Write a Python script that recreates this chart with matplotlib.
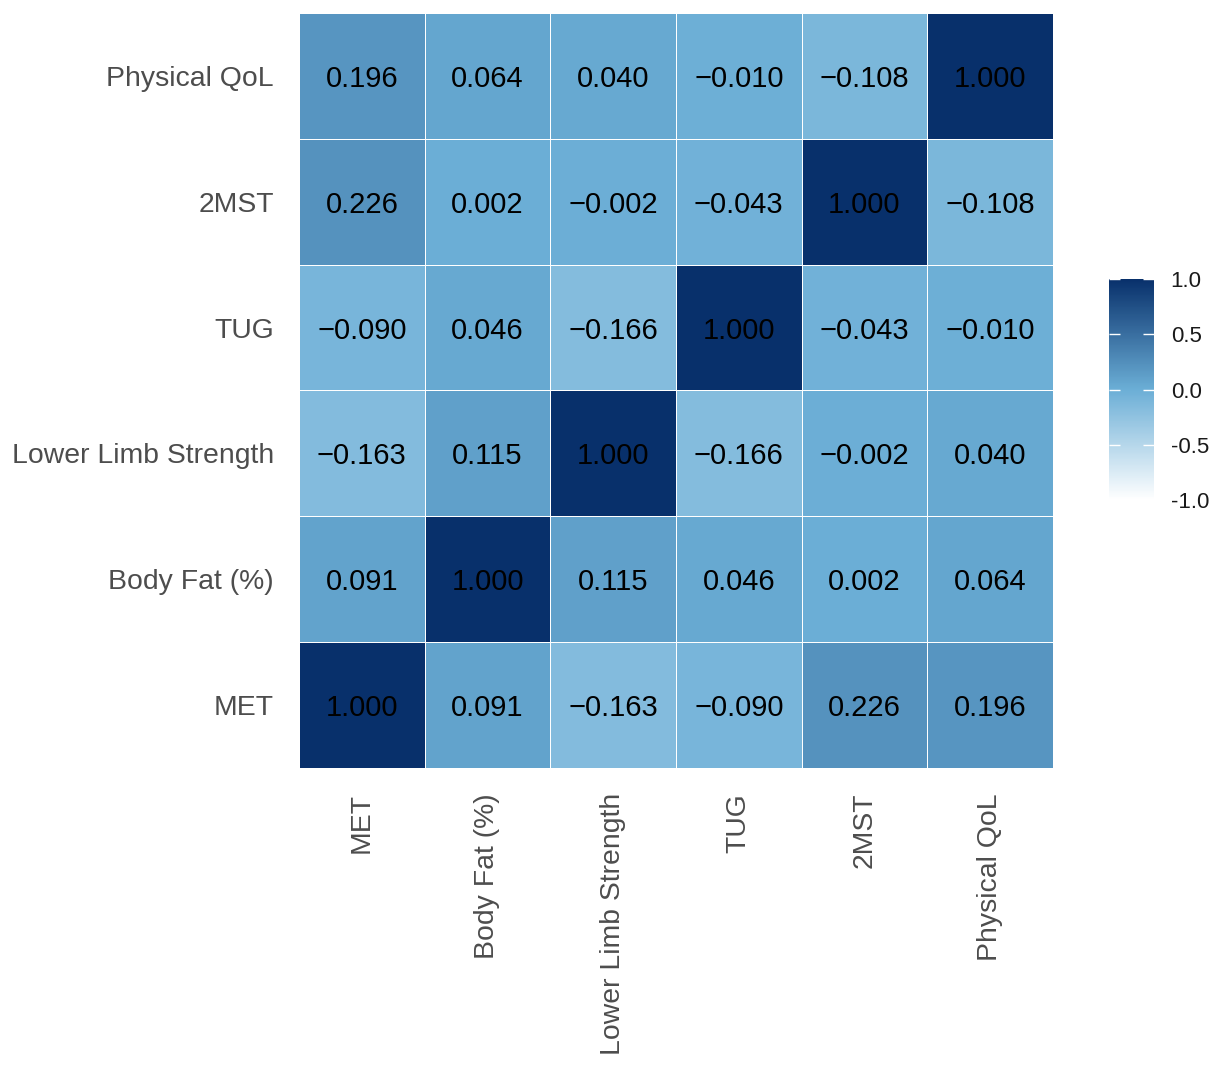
import numpy as np
import matplotlib
matplotlib.use("Agg")
import matplotlib.pyplot as plt
from matplotlib.colors import LinearSegmentedColormap

plt.rcParams['font.family'] = ['Liberation Sans', 'DejaVu Sans']

variables = ["MET", "Body Fat (%)", "Lower Limb Strength", "TUG", "2MST", "Physical QoL"]
pairs = {
    ("MET", "Body Fat (%)"): 0.091,
    ("MET", "Lower Limb Strength"): -0.163,
    ("MET", "TUG"): -0.090,
    ("MET", "2MST"): 0.226,
    ("MET", "Physical QoL"): 0.196,
    ("Body Fat (%)", "Lower Limb Strength"): 0.115,
    ("Body Fat (%)", "TUG"): 0.046,
    ("Body Fat (%)", "2MST"): 0.002,
    ("Body Fat (%)", "Physical QoL"): 0.064,
    ("Lower Limb Strength", "TUG"): -0.166,
    ("Lower Limb Strength", "2MST"): -0.002,
    ("Lower Limb Strength", "Physical QoL"): 0.040,
    ("TUG", "2MST"): -0.043,
    ("TUG", "Physical QoL"): -0.010,
    ("2MST", "Physical QoL"): -0.108,
}
cbar_ticks = [-1.0, -0.5, 0.0, 0.5, 1.0]

n = len(variables)
corr = np.eye(n)
for (a, b), v in pairs.items():
    i, j = variables.index(a), variables.index(b)
    corr[i, j] = v
    corr[j, i] = v

cmap = LinearSegmentedColormap.from_list("gb", ["#ffffff", "#6baed6", "#08306b"])

fig = plt.figure(figsize=(12.17, 10.66), dpi=100)
ax = fig.add_axes([299/1217, 298/1066, 754/1217, 755/1066])
mesh = ax.pcolormesh(np.arange(n + 1) - 0.5, np.arange(n + 1) - 0.5, corr,
                     cmap=cmap, vmin=-1, vmax=1, edgecolors="white", linewidth=0.7)
ax.set_xlim(-0.5, n - 0.5)
ax.set_ylim(-0.5, n - 0.5)
for i in range(n):
    for j in range(n):
        v = corr[i, j]
        s = f"{v:.3f}".replace("-", "\u2212")
        ax.text(j, i, s, ha="center", va="center_baseline", fontsize=21, color="black")

ax.set_xticks(range(n))
ax.set_yticks(range(n))
ax.set_xticklabels(variables, rotation=90, fontsize=20.4, color="#4d4d4d")
ax.set_yticklabels(variables, fontsize=20.4, color="#4d4d4d")
ax.tick_params(length=0, pad=18)
for sp in ax.spines.values():
    sp.set_visible(False)

cax = fig.add_axes([1109/1217, (1066-500)/1066, 45/1217, 221/1066])
cb = fig.colorbar(mesh, cax=cax, ticks=cbar_ticks)
cb.outline.set_visible(False)
cb.ax.set_yticklabels([f"{t:.1f}" for t in cbar_ticks])
cb.ax.tick_params(labelsize=16, labelcolor="#1a1a1a", direction="in", color="white",
                  length=8, width=1, left=True, right=True, pad=12)

fig.savefig("out.png", dpi=100, facecolor="white")
